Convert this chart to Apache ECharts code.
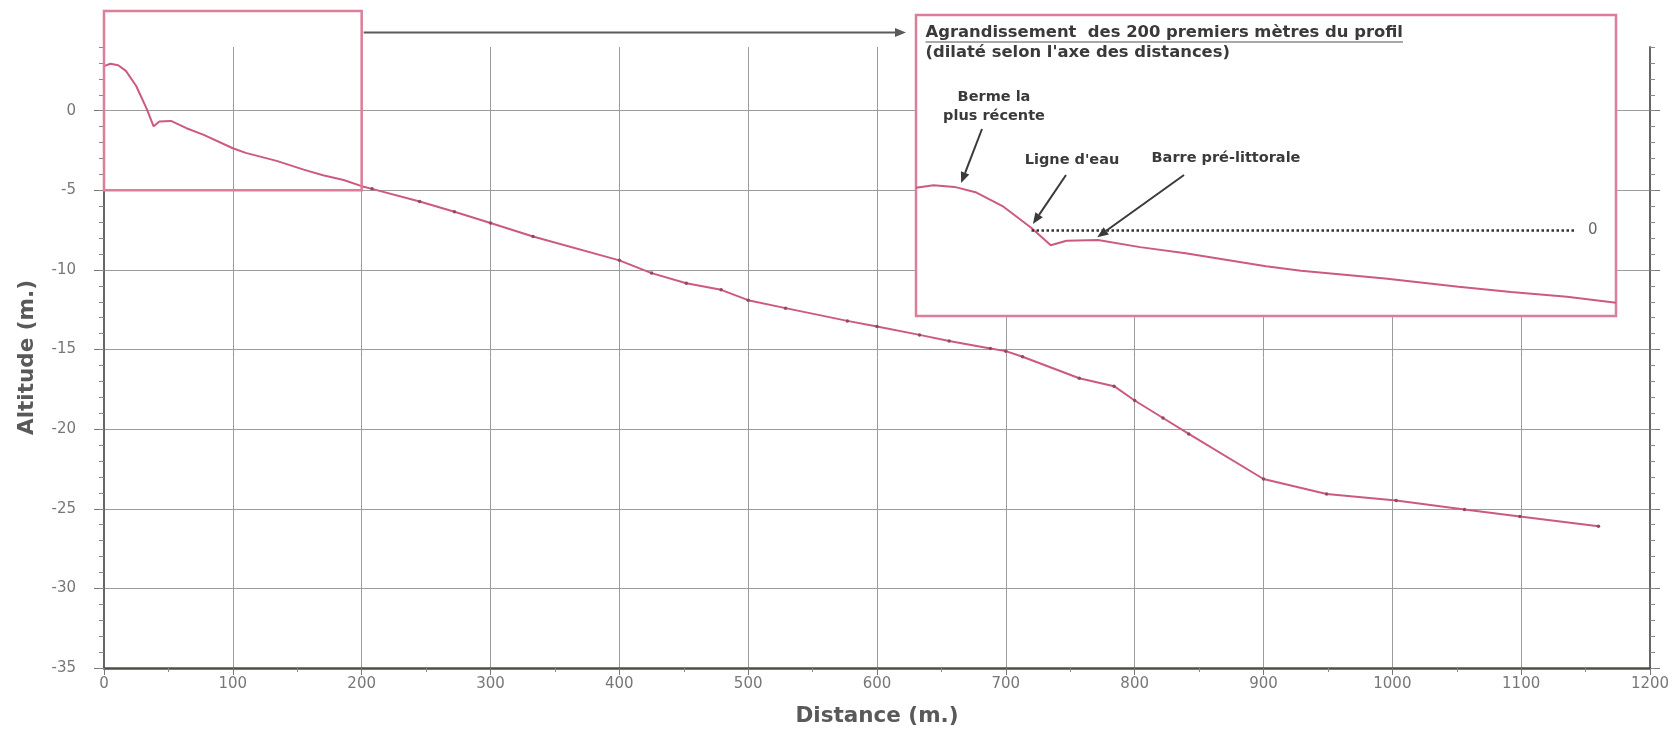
<!DOCTYPE html>
<html>
<head>
<meta charset="utf-8">
<title>Profil de plage</title>
<script src="https://cdn.jsdelivr.net/npm/echarts@6.0.0/dist/echarts.min.js"></script>
<style>
    html, body { margin: 0; padding: 0; background: #fff; }
    #profil { width: 1673px; height: 751px; }
</style>
</head>
<body>
<div id="profil"></div>
<script>
(function () {

    var distances = [0, 5, 11, 17, 25, 33, 38.5, 43, 52, 64, 77, 100, 110, 134, 155, 170, 186, 200,
        208, 245, 272, 300, 333, 400, 425, 452, 479, 500, 529, 577, 600, 633, 656, 688, 700, 713,
        757, 784, 800, 822, 842, 900, 949, 1003, 1056, 1099, 1160];
    var altitudes = [2.8, 2.95, 2.85, 2.5, 1.55, 0.15, -0.98, -0.68, -0.64, -1.1, -1.5, -2.36, -2.65, -3.15, -3.7, -4.05, -4.35, -4.74,
        -4.91, -5.7, -6.35, -7.05, -7.9, -9.4, -10.2, -10.84, -11.25, -11.9, -12.4, -13.2, -13.55, -14.08, -14.46, -14.93, -15.1, -15.45,
        -16.8, -17.3, -18.2, -19.3, -20.3, -23.13, -24.07, -24.48, -25.04, -25.48, -26.1];

    var yTicks = [-35, -30, -25, -20, -15, -10, -5, 0];

    // encart : les 200 premiers metres
    var zoomMaxDistance = 200;
    var waterLevel = 0;
    var waterLineFrom = 33, waterLineTo = 188;

    var FONT = '"DejaVu Sans", Verdana, sans-serif';
    var PINK = '#cc5a80';
    var BOX = '#dc7d99';

    var profile = distances.map(function (d, i) { return [d, altitudes[i]]; });
    var insetProfile = profile.filter(function (p) { return p[0] <= zoomMaxDistance; });

    var chart = echarts.init(document.getElementById('profil'));

    //axe vertical sans libelle (graduations secondaires, ou cote droit)
    function tickAxis(pos, step, len, major) {
        return {
            type: 'value', gridIndex: 0, position: pos,
            min: -35, max: 4, interval: step,
            axisLine: { show: major, onZero: false, lineStyle: { color: '#666', width: 2 } },
            axisTick: major ? { length: len, customValues: yTicks, lineStyle: { color: '#777' } }
                            : { length: len, lineStyle: { color: '#888' } },
            axisLabel: { show: false },
            splitLine: { show: false }
        };
    }

    chart.setOption({
        animation: false,
        grid: [
            { left: 104, right: 23, top: 47, bottom: 83 },
            { left: 916, right: 57, top: 184.6, bottom: 444.4 }
        ],
        xAxis: [{
            type: 'value', gridIndex: 0,
            min: 0, max: 1200, interval: 100,
            name: 'Distance (m.)', nameLocation: 'middle', nameGap: 37,
            nameTextStyle: { fontFamily: FONT, fontSize: 21.5, fontWeight: 'bold', color: '#595959' },
            axisLine: { onZero: false, lineStyle: { color: '#4f4f47', width: 2.5 } },
            axisTick: { length: 7, lineStyle: { color: '#777' } },
            minorTick: { show: true, splitNumber: 2, length: 4, lineStyle: { color: '#888' } },
            axisLabel: { fontFamily: FONT, fontSize: 15, color: '#777', margin: 9,
                formatter: function (v) { return String(v); } },
            splitLine: { show: true, showMinLine: false, showMaxLine: false, lineStyle: { color: '#9c9c9c', width: 1 } }
        }, {
            type: 'value', gridIndex: 1, min: 0, max: zoomMaxDistance, show: false
        }],
        yAxis: [{
            type: 'value', gridIndex: 0, position: 'left',
            min: -35, max: 4, interval: 5,
            name: 'Altitude (m.)', nameLocation: 'middle', nameGap: 66,
            nameTextStyle: { fontFamily: FONT, fontSize: 21.5, fontWeight: 'bold', color: '#595959' },
            axisLine: { onZero: false, lineStyle: { color: '#666', width: 2 } },
            axisTick: { length: 10, customValues: yTicks, lineStyle: { color: '#777' } },
            axisLabel: { customValues: yTicks, fontFamily: FONT, fontSize: 15, color: '#777', margin: 28 },
            splitLine: { show: true, showMinLine: false, lineStyle: { color: '#9c9c9c', width: 1 } }
        },
            tickAxis('left', 1, 5, false),
            tickAxis('right', 5, 10, true),
            tickAxis('right', 1, 5, false),
        {
            type: 'value', gridIndex: 1, min: -5, max: 3, show: false
        }],
        series: [{
            name: 'Profil',
            type: 'line',
            xAxisIndex: 0, yAxisIndex: 0,
            data: profile,
            symbol: 'circle',
            symbolSize: function (v) { return v[0] > zoomMaxDistance ? 3.5 : 0; },
            itemStyle: { color: '#8f4a62' },
            lineStyle: { color: PINK, width: 2 },
            z: 3
        }, {
            name: 'Encart',
            type: 'line',
            xAxisIndex: 1, yAxisIndex: 4,
            data: insetProfile,
            showSymbol: false,
            lineStyle: { color: PINK, width: 2 },
            z: 3,
            markLine: {
                silent: true,
                symbol: 'none',
                lineStyle: { color: '#333', type: 'dotted', width: 2.5 },
                label: { show: true, position: 'end', formatter: '0', distance: 14,
                    fontFamily: FONT, fontSize: 15, color: '#666' },
                data: [[{ coord: [waterLineFrom, waterLevel] }, { coord: [waterLineTo, waterLevel] }]]
            }
        }]
    });

    // fleche : ligne + pointe
    function arrow(x1, y1, x2, y2, color, width) {
        var a = Math.atan2(y2 - y1, x2 - x1);
        var hl = 11, hw = 4.5;
        var bx = x2 - hl * Math.cos(a), by = y2 - hl * Math.sin(a);
        return [{
            type: 'line', z: 10, silent: true,
            shape: { x1: x1, y1: y1, x2: bx, y2: by },
            style: { stroke: color, lineWidth: width }
        }, {
            type: 'polygon', z: 10, silent: true,
            shape: { points: [[x2, y2],
                [bx + hw * Math.sin(a), by - hw * Math.cos(a)],
                [bx - hw * Math.sin(a), by + hw * Math.cos(a)]] },
            style: { fill: color }
        }];
    }

    function label(text, x, y, size, align) {
        return {
            type: 'text', z: 10, silent: true, x: x, y: y,
            style: { text: text, fontFamily: FONT, fontSize: size, fontWeight: 'bold',
                fill: '#3a3a3a', align: align || 'center', verticalAlign: 'middle' }
        };
    }

    function textWidth(text, size) {
        var ctx = document.createElement('canvas').getContext('2d');
        ctx.font = 'bold ' + size + 'px ' + FONT;
        return ctx.measureText(text).width;
    }

    var main = { xAxisIndex: 0, yAxisIndex: 0 };
    var inset = { xAxisIndex: 1, yAxisIndex: 4 };
    var zBL = chart.convertToPixel(main, [0, -5]);
    var zBR = chart.convertToPixel(main, [zoomMaxDistance, -5]);
    var iL = chart.convertToPixel(inset, [0, 0])[0];
    var iR = chart.convertToPixel(inset, [zoomMaxDistance, 0])[0];

    var tipBerme = chart.convertToPixel(inset, [12.9, 3.1]);
    var tipEau = chart.convertToPixel(inset, [33.4, 0.42]);
    var tipBarre = chart.convertToPixel(inset, [51.8, -0.45]);

    var titre = 'Agrandissement  des 200 premiers mètres du profil';
    var tw = textWidth(titre, 16.4);

    var graphics = [
        // zone agrandie sur le profil
        { type: 'rect', z: 5, silent: true,
          shape: { x: zBL[0], y: 11, width: zBR[0] - zBL[0], height: zBL[1] - 11 },
          style: { fill: 'none', stroke: BOX, lineWidth: 2.5 } },
        // encart
        { type: 'rect', z: 1, silent: true,
          shape: { x: iL, y: 15, width: iR - iL, height: 301 },
          style: { fill: '#fff', stroke: BOX, lineWidth: 2.5 } },
        label(titre, iL + 9.5, 33, 16.4, 'left'),
        { type: 'line', z: 10, silent: true,
          shape: { x1: iL + 9.5, y1: 42, x2: iL + 9.5 + tw, y2: 42 },
          style: { stroke: '#555', lineWidth: 1.2 } },
        label("(dilaté selon l'axe des distances)", iL + 9.5, 53, 16.4, 'left'),
        label('Berme la', 994, 97, 14.5),
        label('plus récente', 994, 116, 14.5),
        label("Ligne d'eau", 1072, 160, 14.5),
        label('Barre pré-littorale', 1226, 158, 14.5)
    ];
    graphics = graphics
        .concat(arrow(zBR[0] + 2, 32.5, iL - 10, 32.5, '#5a5a5a', 2))
        .concat(arrow(982, 129, tipBerme[0], tipBerme[1], '#3a3a3a', 2))
        .concat(arrow(1066, 175, tipEau[0], tipEau[1], '#3a3a3a', 2))
        .concat(arrow(1184, 175, tipBarre[0], tipBarre[1], '#3a3a3a', 2));

    chart.setOption({ graphic: graphics });
})();
</script>
</body>
</html>
